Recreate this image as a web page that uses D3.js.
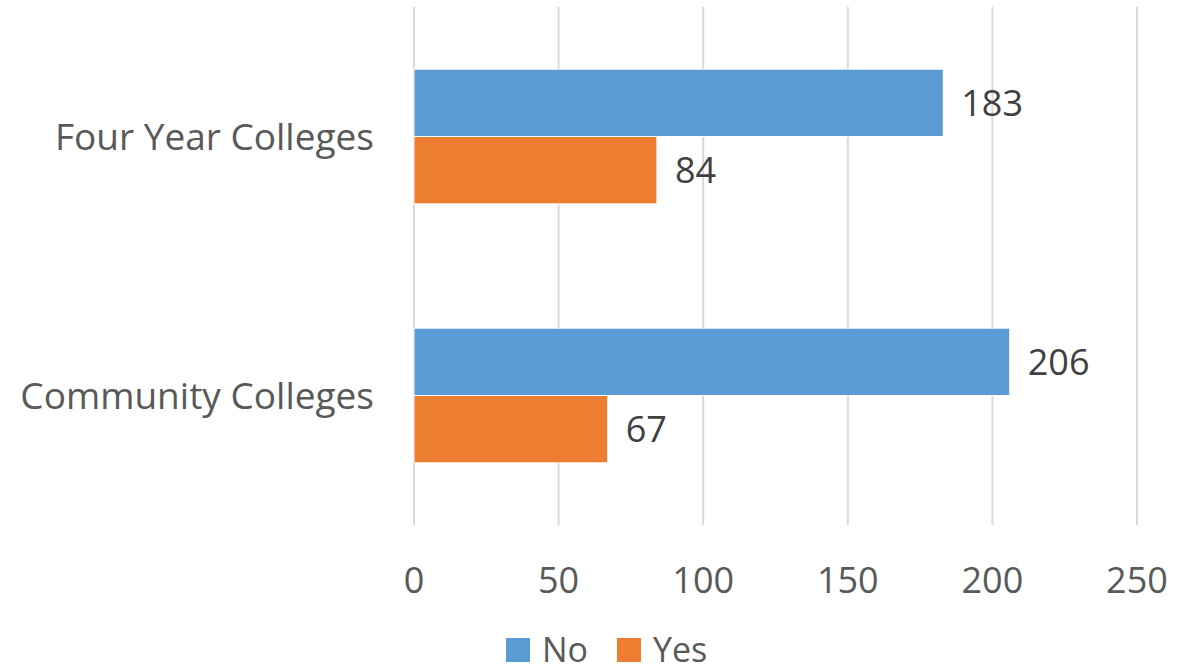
<!DOCTYPE html>
<html>
<head>
<meta charset="utf-8">
<script src="https://cdn.jsdelivr.net/npm/d3@7"></script>
<style>
  body { margin: 0; background: #fff; }
  text { font-family: "Open Sans", "Noto Sans", sans-serif; }
</style>
</head>
<body>
<div id="chart"></div>
<script>
var categories = ["Four Year Colleges", "Community Colleges"];
var seriesNames = ["No", "Yes"];
var noValues = [183, 206];
var yesValues = [84, 67];
var xTicks = [0, 50, 100, 150, 200, 250];

var width = 1192, height = 672;
var colors = { No: "#5B9BD5", Yes: "#ED7D31" };

var svg = d3.select("#chart").append("svg")
    .attr("width", width)
    .attr("height", height);

var x = d3.scaleLinear().domain([0, 250]).range([414, 1137]);
var y = d3.scaleBand().domain(categories).range([7, 525])
    .paddingInner(0.48).paddingOuter(0.24);
var ySub = d3.scaleBand().domain(seriesNames).range([0, y.bandwidth()]);

// gridlines
svg.append("g").selectAll("line")
    .data(xTicks)
    .join("line")
    .attr("x1", d => x(d)).attr("x2", d => x(d))
    .attr("y1", 7).attr("y2", 525)
    .attr("stroke", "#d9d9d9")
    .attr("stroke-width", 2);

// x tick labels
svg.append("g").selectAll("text")
    .data(xTicks)
    .join("text")
    .attr("x", d => x(d))
    .attr("y", 593)
    .attr("text-anchor", "middle")
    .attr("font-size", 36)
    .attr("fill", "#595959")
    .text(d => d);

// category labels
svg.append("g").selectAll("text")
    .data(categories)
    .join("text")
    .attr("x", 374)
    .attr("y", d => y(d) + y.bandwidth() / 2 + 13)
    .attr("text-anchor", "end")
    .attr("font-size", 37)
    .attr("fill", "#595959")
    .text(d => d);

var rows = [];
categories.forEach(function(c, i) {
    rows.push({ cat: c, s: "No", v: noValues[i] });
    rows.push({ cat: c, s: "Yes", v: yesValues[i] });
});

svg.append("g").selectAll("rect")
    .data(rows)
    .join("rect")
    .attr("x", x(0))
    .attr("y", d => y(d.cat) + ySub(d.s))
    .attr("width", d => x(d.v) - x(0))
    .attr("height", ySub.bandwidth())
    .attr("fill", d => colors[d.s])
    .attr("stroke", "#fff")
    .attr("stroke-width", 1);

svg.append("g").selectAll("text")
    .data(rows)
    .join("text")
    .attr("x", d => x(d.v) + 18)
    .attr("y", d => y(d.cat) + ySub(d.s) + ySub.bandwidth() / 2 + 13)
    .attr("font-size", 36)
    .attr("fill", "#404040")
    .text(d => d.v);

// legend
var legendX = [506, 617];
var legend = svg.append("g").selectAll("g")
    .data(seriesNames)
    .join("g")
    .attr("transform", (d, i) => "translate(" + legendX[i] + ",638)");
legend.append("rect")
    .attr("width", 24).attr("height", 24)
    .attr("fill", d => colors[d]);
legend.append("text")
    .attr("x", 36).attr("y", 24)
    .attr("font-size", 34)
    .attr("fill", "#595959")
    .text(d => d);
</script>
</body>
</html>
